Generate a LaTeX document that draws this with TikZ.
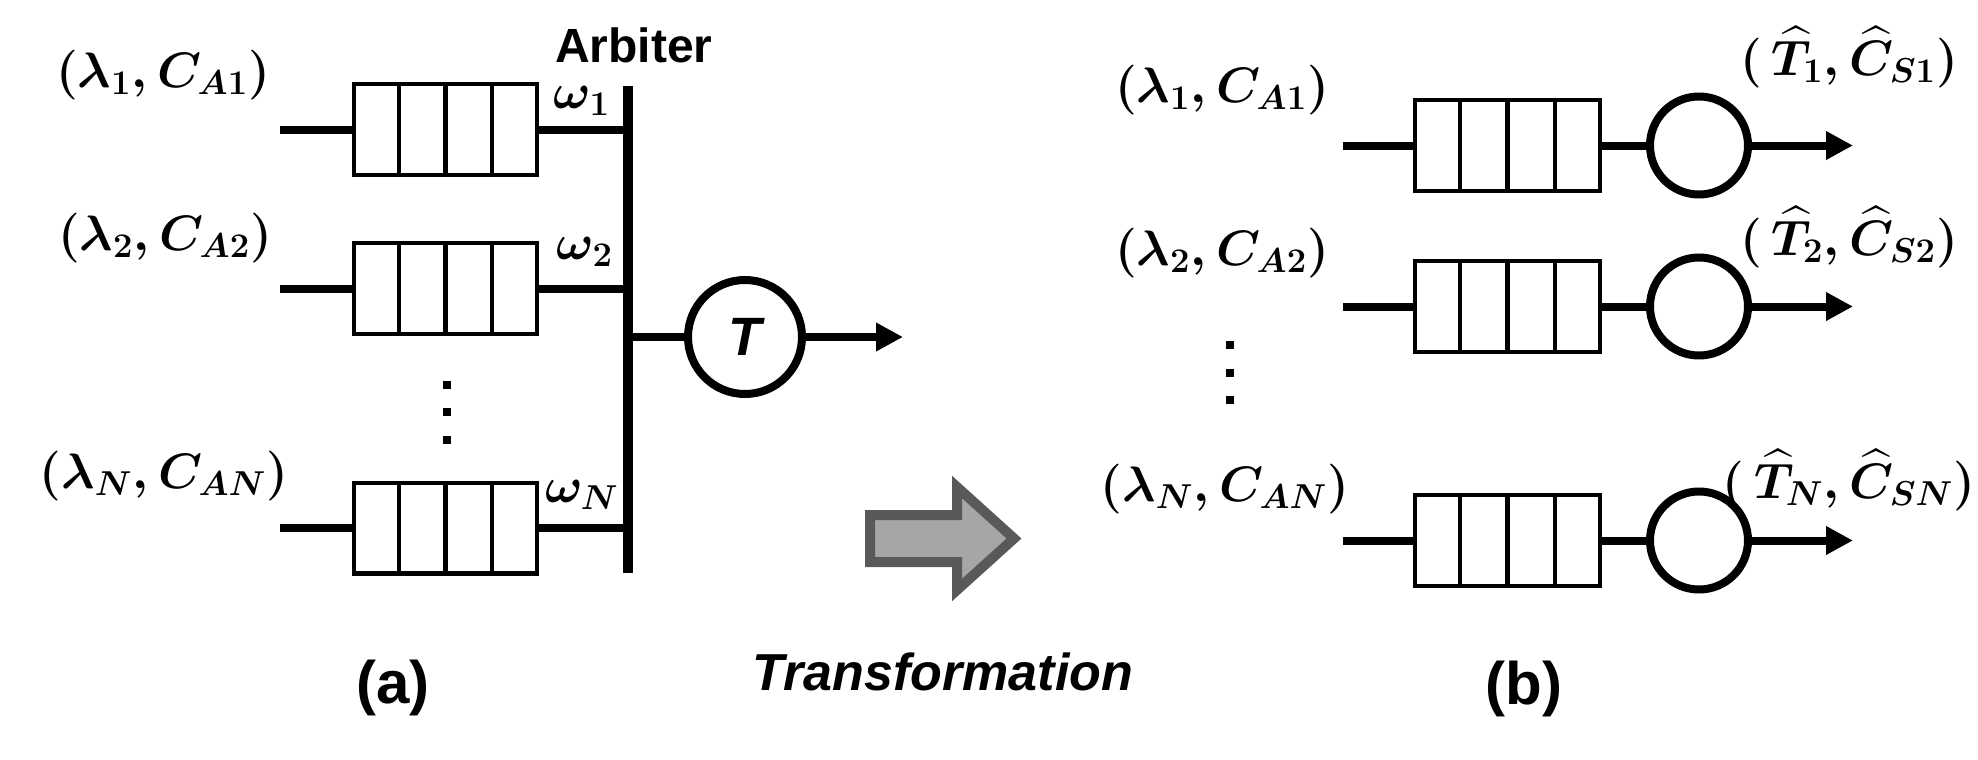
\documentclass[tikz,border=0pt]{standalone}
\usepackage{fontspec}
\setmainfont{Liberation Sans}
\usepackage{amsmath}
\usepackage{bm}
\usetikzlibrary{calc,arrows.meta}

\definecolor{shiftfill}{HTML}{A6A6A6}
\definecolor{shiftedge}{HTML}{595959}

\tikzset{
  wire/.style={line width=4pt},
  flow/.style={line width=4pt,-{Triangle[length=13.5pt,width=13.5pt]}},
  queue/.style={draw,line width=2.2pt,minimum width=91.3pt,minimum height=45.3pt,inner sep=0pt},
  server/.style={draw,circle,line width=4pt,inner sep=0pt},
  rate/.style={font=\fontsize{24}{28}\selectfont\boldmath,inner sep=0pt},
  weight/.style={font=\fontsize{27}{30}\selectfont\boldmath,inner sep=0pt},
  caption/.style={font=\fontsize{30}{34}\selectfont\bfseries,inner sep=0pt},
}

\begin{document}
\begin{tikzpicture}[x=0.5pt,y=-0.5pt]
\useasboundingbox (0,0) rectangle (1978,760);
%
% (a) shared server behind the arbiter
\node[queue] (qa1) at (445.5,129.5) {};
\node[queue] (qa2) at (445.5,288.5) {};
\node[queue] (qaN) at (445.5,528) {};
\coordinate (ina1) at (280,129.5);
\coordinate (ina2) at (280,288.5);
\coordinate (inaN) at (280,528);
\coordinate (bartop) at (628,86);
\coordinate (barbot) at (628,573);
\node[server,minimum size=57pt,font=\fontsize{27}{30}\selectfont\bfseries\itshape] (srv) at (745,337) {T};
\coordinate (outa) at (903,337);

\node[rate] (la1) at (163,75) {$(\lambda_1, C_{A1})$};
\node[rate] (la2) at (165,238) {$(\lambda_2, C_{A2})$};
\node[rate] (laN) at (164,476) {$(\lambda_N, C_{AN})$};
\node[weight] (w1) at (582,101) {$\omega_1$};
\node[weight] (w2) at (585,252) {$\omega_2$};
\node[weight] (wN) at (582,495) {$\omega_N$};
\node[font=\fontsize{24}{28}\selectfont\bfseries,anchor=base,inner sep=0pt] (arb) at (634,62) {Arbiter};

\draw[line width=5pt] (bartop) -- (barbot);
\foreach \r in {1,2,N} {
  \draw[wire] (ina\r) -- (qa\r.west);
  \draw[wire] (qa\r.east) -- (qa\r.east -| bartop);
}
\draw[wire] (srv.west -| bartop) -- (srv.west);
\draw[flow] (srv.east) -- (outa);
\foreach \y in {385,412,440} \fill (443,\y-4) rectangle ++(8,8);

% transformation arrow
\draw[fill=shiftfill,draw=shiftedge,line width=5pt,line join=miter]
  (870,515) -- (957,515) -- (957,487) -- (1014,538.5) -- (957,590) -- (957,562) -- (870,562) -- cycle;
\node[font=\fontsize{26}{30}\selectfont\bfseries\itshape,inner sep=0pt] (trf) at (943,672) {Transformation};

% (b) one server per queue
\node[queue,minimum width=92.3pt] (qb1) at (1507.5,145.5) {};
\node[queue,minimum width=92.3pt] (qb2) at (1507.5,306.5) {};
\node[queue,minimum width=92.3pt] (qbN) at (1507.5,540.5) {};
\foreach \r/\y in {1/145.5,2/306.5,N/540.5} {
  \coordinate (inb\r) at (1343,\y);
  \coordinate (outb\r) at (1853,\y);
  \node[server,minimum size=49pt] (sb\r) at (1699,\y) {};
  \draw[wire] (inb\r) -- (qb\r.west);
  \draw[wire] (qb\r.east) -- (sb\r.west);
  \draw[flow] (sb\r.east) -- (outb\r);
}
\foreach \y in {345,373,400} \fill (1226,\y-4) rectangle ++(8,8);

\node[rate] (lb1) at (1222,90) {$(\lambda_1, C_{A1})$};
\node[rate] (lb2) at (1222,253) {$(\lambda_2, C_{A2})$};
\node[rate] (lbN) at (1225,489) {$(\lambda_N, C_{AN})$};
\node[rate] (tb1) at (1849,57) {$(\,\widehat{T}_1, \widehat{C}_{S1})$};
\node[rate] (tb2) at (1849,237) {$(\,\widehat{T}_2, \widehat{C}_{S2})$};
\node[rate] (tbN) at (1849,480) {$(\,\widehat{T}_N, \widehat{C}_{SN})$};

% cells of every queue
\foreach \q in {qa1,qa2,qaN,qb1,qb2,qbN}
  \foreach \i in {1,2,3}
    \draw[line width=2.2pt] ($(\q.north west)!\i/4!(\q.north east)$) -- ($(\q.south west)!\i/4!(\q.south east)$);

\node[caption] (capa) at (393,688) {(a)};
\node[caption] (capb) at (1524,689) {(b)};
%
\end{tikzpicture}
\end{document}
